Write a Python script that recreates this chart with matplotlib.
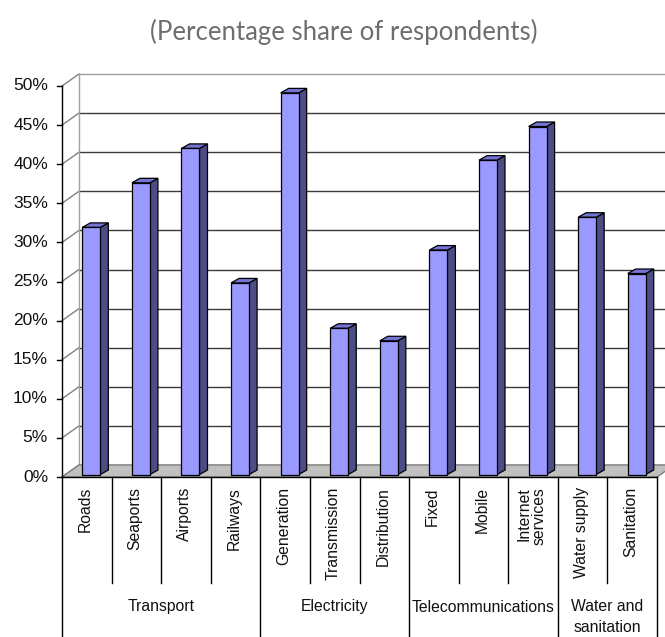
import matplotlib
matplotlib.use("Agg")
import matplotlib.pyplot as plt
from matplotlib.patches import Polygon
import matplotlib.transforms as mtransforms

# ---- data ----
categories = ["Roads", "Seaports", "Airports", "Railways", "Generation",
              "Transmission", "Distribution", "Fixed", "Mobile",
              "Internet\nservices", "Water supply", "Sanitation"]
values = [31.6, 37.3, 41.7, 24.5, 48.8, 18.7, 17.1, 28.7, 40.2, 44.5, 32.9, 25.7]
groups = ["Transport", "Electricity", "Telecommunications", "Water and\nsanitation"]
group_sizes = [4, 3, 3, 2]
yticks = [0, 5, 10, 15, 20, 25, 30, 35, 40, 45, 50]
ytick_labels = [f"{t}%" for t in yticks]
title = "(Percentage share of respondents)"

W, H = 665, 637
fig = plt.figure(figsize=(W / 100, H / 100), dpi=100)
ax_l, ax_r, ax_b, ax_t = 62, 657, 477, 86
ax = fig.add_axes([ax_l / W, (H - ax_b) / H, (ax_r - ax_l) / W, (ax_b - ax_t) / H])
n = len(categories)
ax.set_xlim(0, n)
ax.set_ylim(0, 50)
ax.axis("off")

ppx = (ax_r - ax_l) / n      # pixels per category
ppy = (ax_b - ax_t) / 50.0   # pixels per percent

# depth of the wall
wdx, wdy = 17 / ppx, 12 / ppy
# depth of the bars
bdx, bdy = 8 / ppx, 4.5 / ppy

grid_col = "#3a3a3a"
# back wall gridlines + side wall diagonals
for t in yticks:
    c = "#a0a0a0" if t == 50 else grid_col
    ax.plot([wdx, n + wdx + 1], [t + wdy, t + wdy], color=c, lw=1.0, clip_on=False, zorder=1)
    ax.plot([0, wdx], [t, t + wdy], color="#808080", lw=1.0, clip_on=False, zorder=1)
# back wall left edge
ax.plot([wdx, wdx], [wdy, 50 + wdy], color="#a0a0a0", lw=1.0, clip_on=False, zorder=1)

# floor
floor = Polygon([(0, 0), (n, 0), (n + wdx, wdy), (wdx, wdy)], closed=True,
                facecolor="#c0c0c0", edgecolor="#808080", lw=1.0, clip_on=False, zorder=2)
ax.add_patch(floor)

# bars
front_col = "#9999ff"
side_col = "#4d4d85"
top_col = "#7474d6"
bar_off = mtransforms.offset_copy(ax.transData, fig=fig, x=0, y=2.5, units="dots")
bw = 18 / ppx
for i, v in enumerate(values):
    xl = i + 0.41
    xr = xl + bw
    ax.bar(xl, v, width=bw, align="edge", color=front_col, edgecolor="black",
           lw=0.9, transform=bar_off, zorder=4, clip_on=False)
    side = Polygon([(xr, 0), (xr, v), (xr + bdx, v + bdy), (xr + bdx, bdy)], closed=True,
                   facecolor=side_col, edgecolor="black", lw=0.9, transform=bar_off,
                   zorder=3, clip_on=False)
    top = Polygon([(xl, v), (xr, v), (xr + bdx, v + bdy), (xl + bdx, v + bdy)], closed=True,
                  facecolor=top_col, edgecolor="black", lw=0.9, transform=bar_off,
                  zorder=3, clip_on=False)
    ax.add_patch(side)
    ax.add_patch(top)

# y axis
ax.plot([0, 0], [50, 0], color="black", lw=1.0, clip_on=False, zorder=5)
for t, lab in zip(yticks, ytick_labels):
    ax.plot([-5 / ppx, 0], [t, t], color="black", lw=1.0, clip_on=False, zorder=5)
    ax.text(-14 / ppx, t, lab, ha="right", va="center", fontsize=12.5,
            family="Liberation Sans", color="#111111")

# category axis table
bt = mtransforms.blended_transform_factory(ax.transData, fig.transFigure)
yf = lambda py: (H - py) / H
ax.plot([0, n], [yf(477), yf(477)], transform=bt, color="black", lw=1.0, clip_on=False, zorder=5)
ax.plot([0, 0], [yf(477), yf(640)], transform=bt, color="black", lw=1.0, clip_on=False, zorder=5)

start = 0
for g, sz in zip(groups, group_sizes):
    end = start + sz
    for k in range(start + 1, end):
        ax.plot([k, k], [yf(477), yf(583)], transform=bt, color="black", lw=1.0, clip_on=False)
    ax.plot([end, end], [yf(477), yf(640)], transform=bt, color="black", lw=1.0, clip_on=False)
    ax.text((start + end) / 2, yf(607 if "\n" not in g else 617), g, transform=bt,
            ha="center", va="center", fontsize=11.3, family="Liberation Sans",
            linespacing=1.45, color="#111111")
    start = end

for i, c in enumerate(categories):
    ax.text(i + 0.47, yf(487), c, transform=bt, rotation=90, ha="center", va="top",
            fontsize=11.3, family="Liberation Sans", multialignment="right",
            color="#111111", linespacing=1.05)

fig.text(344 / W, yf(32), title, ha="center", va="center", fontsize=18.5,
         family="Lato", color="#6d6e71")

fig.savefig("out.png", dpi=100)
